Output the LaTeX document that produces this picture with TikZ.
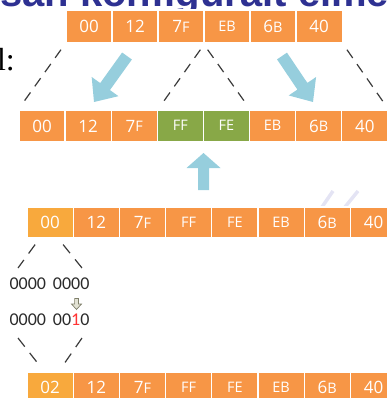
\documentclass[tikz,border=0pt]{standalone}
\usepackage{fontspec}
\setmainfont{Liberation Serif}
\newfontfamily\cellfont{Open Sans}
\newfontfamily\binfont{Carlito}
\newfontfamily\titlefont{Liberation Sans}
\usetikzlibrary{calc}
\definecolor{cello}{HTML}{F79646}
\definecolor{celly}{HTML}{F8A93D}
\definecolor{cellg}{HTML}{88A847}
\definecolor{arrowblue}{HTML}{96CEDD}
\definecolor{titleblue}{HTML}{2E3192}
\definecolor{dashgray}{HTML}{3A3A3A}
\definecolor{bintext}{HTML}{2A2A2A}
\definecolor{binred}{HTML}{FF3333}
\definecolor{stripecol}{HTML}{E4E4F4}
\definecolor{downfill}{HTML}{E2E2D4}
\definecolor{downline}{HTML}{7F7F6A}
\newcommand\sm[1]{\raisebox{0.5pt}{\fontsize{14.5}{15}\selectfont #1}}
\newcommand\blockarr[5]{%
  \coordinate (#1h) at ($(#2)!#3!(#1)$);
  \fill[arrowblue] ($(#1)!#4!90:(#2)$) -- ($(#1h)!#4!90:(#2)$) -- ($(#1h)!#5!90:(#2)$) -- (#2)
    -- ($(#1h)!#5!-90:(#2)$) -- ($(#1h)!#4!-90:(#2)$) -- ($(#1)!#4!-90:(#2)$) -- cycle;}
\begin{document}
\begin{tikzpicture}[x=1pt,y=-1pt,
  cell/.style={draw=white, line width=1.2pt, fill=cello, minimum width=46.2pt,
    inner sep=0pt, text=white, font=\cellfont\fontsize{17}{17}\selectfont},
  ycell/.style={cell, fill=celly},
  gcell/.style={cell, fill=cellg},
  dline/.style={draw=dashgray, line width=1.2pt, dash pattern=on 10pt off 7.5pt},
  bin/.style={inner sep=0pt, text=bintext, font=\binfont\fontsize{18}{18}\selectfont},
  stripe/.style={draw=stripecol, line width=3.5pt}]
\useasboundingbox (0,0) rectangle (387,398);
\clip (0,0) rectangle (387,398);

% title remnant and side label
\node[anchor=base west, inner sep=0pt, text=titleblue,
  font=\titlefont\bfseries\fontsize{40}{40}\selectfont] (title) at (0,6.5) {san konfigurált elme};
\node[anchor=base east, inner sep=0pt, font=\fontsize{32}{32}\selectfont] (lbl) at (15,71) {l:};

% faint background stripes
\draw[stripe] (322,207) -- (333,191);
\draw[stripe] (345,207) -- (358,191);

% row 1
\foreach \t/\s [count=\i] in {00/cell,12/cell,7\sm{F}/cell,\sm{EB}/cell,6\sm{B}/cell,40/cell}
  \node[\s, minimum height=33pt] (r1c\i) at ({89+46*(\i-1)},26.5) {\t};
% row 2
\foreach \t/\s [count=\i] in {00/cell,12/cell,7\sm{F}/cell,\sm{FF}/gcell,\sm{FE}/gcell,\sm{EB}/cell,6\sm{B}/cell,40/cell}
  \node[\s, minimum height=32pt] (r2c\i) at ({42.05+46.1*(\i-1)},126) {\t};
% row 3
\foreach \t/\s [count=\i] in {00/ycell,12/cell,7\sm{F}/cell,\sm{FF}/cell,\sm{FE}/cell,\sm{EB}/cell,6\sm{B}/cell,40/cell}
  \node[\s, minimum height=31pt] (r3c\i) at ({50.1+46.2*(\i-1)},222.5) {\t};
% row 4
\foreach \t/\s [count=\i] in {02/ycell,12/cell,7\sm{F}/cell,\sm{FF}/cell,\sm{FE}/cell,\sm{EB}/cell,6\sm{B}/cell,40/cell}
  \node[\s, minimum height=31pt] (r4c\i) at ({50.1+46.2*(\i-1)},387.5) {\t};

% dashed guide lines row 1 -> row 2
\draw[dline, shorten <=7.5pt, shorten >=7.5pt] (r1c1.south west) -- (r2c1.north west);
\draw[dline, shorten <=7.5pt, shorten >=7.5pt] (r1c3.south east) -- (r2c3.north east);
\draw[dline, shorten <=7.5pt, shorten >=7.5pt] (r1c4.south west) -- (r2c5.north east);
\draw[dline, shorten <=7.5pt, shorten >=7.5pt] (r1c6.south east) -- (r2c8.north east);

% blue block arrows
\coordinate (lt) at (127,56);  \coordinate (lp) at (94,102);
\coordinate (rt) at (282,56);  \coordinate (rp) at (313,102);
\coordinate (ut) at (203.5,190); \coordinate (up) at (203.5,153);
\blockarr{lt}{lp}{19pt}{6pt}{16.5pt}
\blockarr{rt}{rp}{19pt}{6pt}{16.5pt}
\blockarr{ut}{up}{15pt}{5.5pt}{17pt}

% binary expansion
\node[bin] (b1) at (49.5,283.5) {0000\hspace{7pt}0000};
\node[bin] (b2) at (49.5,319.5) {0000\hspace{7pt}00\textcolor{binred}{1}0};

\coordinate (d1a) at ($(r3c1.south)+(-15,6)$);  \coordinate (d1b) at (18,268);
\coordinate (d2a) at ($(r3c1.south)+(13,6)$);   \coordinate (d2b) at (82,268);
\coordinate (d3a) at (18,338); \coordinate (d3b) at ($(r4c1.north)+(-13,-9)$);
\coordinate (d4a) at (82,338); \coordinate (d4b) at ($(r4c1.north)+(15,-9)$);
\draw[dline, dash pattern=on 11pt off 8pt] (d1a) -- (d1b);
\draw[dline, dash pattern=on 11pt off 8pt] (d2a) -- (d2b);
\draw[dline, dash pattern=on 11pt off 8pt] (d3a) -- (d3b);
\draw[dline, dash pattern=on 11pt off 8pt] (d4a) -- (d4b);

% small hollow down arrow
\draw[fill=downfill, draw=downline, line width=0.7pt]
  (74.6,298.5) -- (78.4,298.5) -- (78.4,304) -- (81.5,304) -- (76.5,309.5)
  -- (71.5,304) -- (74.6,304) -- cycle;
\end{tikzpicture}
\end{document}
